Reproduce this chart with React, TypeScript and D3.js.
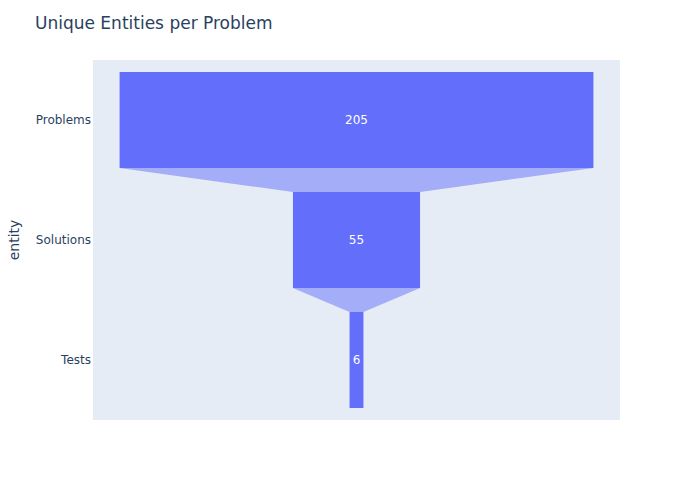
import * as d3 from 'd3';

const stages = ['Problems', 'Solutions', 'Tests'];
const counts = [205, 55, 6];

const W = 700;
const H = 500;
const margin = { top: 60, right: 80, bottom: 80, left: 93 };
const font = '"DejaVu Sans", verdana, arial, sans-serif';

export default function App() {
  const iw = W - margin.left - margin.right;
  const ih = H - margin.top - margin.bottom;
  const x = d3.scaleLinear().domain([-114, 114]).range([0, iw]);
  const y = d3.scaleBand<string>().domain(stages).range([0, ih]).paddingInner(0.2).paddingOuter(0.1);
  const band = y.bandwidth();

  const connectors = counts.slice(0, -1).map((v, i) => {
    const nv = counts[i + 1];
    const y0 = (y(stages[i]) ?? 0) + band;
    const y1 = y(stages[i + 1]) ?? 0;
    return `M${x(-v / 2)},${y0}L${x(v / 2)},${y0}L${x(nv / 2)},${y1}L${x(-nv / 2)},${y1}Z`;
  });

  return (
    <svg width={W} height={H} style={{ position: 'absolute', left: 0, top: 0, background: '#fff' }} fontFamily={font}>
      <text x={35} y={29} fontSize={17} fill="#2a3f5f">Unique Entities per Problem</text>
      <g transform={`translate(${margin.left},${margin.top})`}>
        <rect width={iw} height={ih} fill="#e5ecf6" />
        {connectors.map((d, i) => (
          <path key={i} d={d} fill="#636efa" fillOpacity={0.5} />
        ))}
        {stages.map((s, i) => {
          const v = counts[i];
          const y0 = y(s) ?? 0;
          return (
            <g key={s}>
              <rect x={x(-v / 2)} y={y0} width={x(v / 2) - x(-v / 2)} height={band} fill="#636efa" />
              <text x={x(0)} y={y0 + band / 2} dy="0.35em" textAnchor="middle" fontSize={12} fill="#fff">{v}</text>
              <text x={-2} y={y0 + band / 2} dy="0.35em" textAnchor="end" fontSize={12} fill="#2a3f5f">{s}</text>
            </g>
          );
        })}
      </g>
      <text transform={`translate(14,${margin.top + ih / 2}) rotate(-90)`} textAnchor="middle" dy="0.35em" fontSize={14} fill="#2a3f5f">entity</text>
    </svg>
  );
}
